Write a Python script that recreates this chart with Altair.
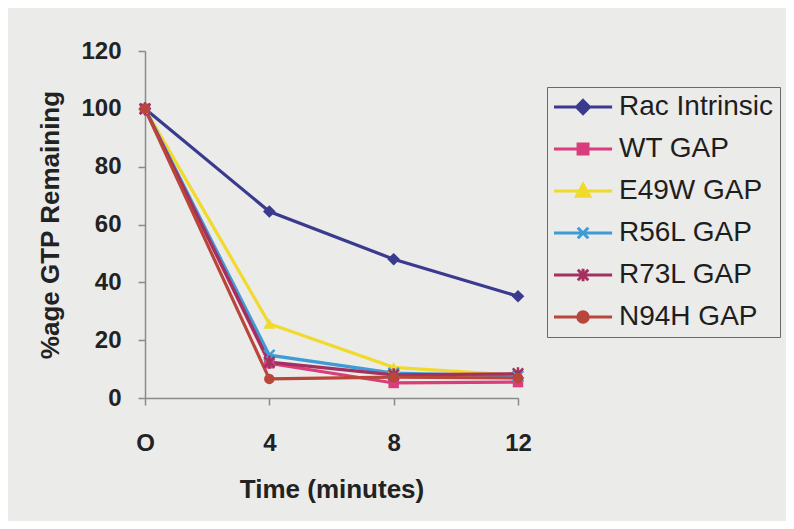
import altair as alt
import pandas as pd

# ---- data ----
times = [0, 4, 8, 12]
series_names = ["Rac Intrinsic", "WT GAP", "E49W GAP", "R56L GAP", "R73L GAP", "N94H GAP"]
rac_intrinsic = [100, 64.5, 48.0, 35.2]
wt_gap = [100, 12.0, 5.2, 5.5]
e49w_gap = [100, 25.7, 10.6, 7.8]
r56l_gap = [100, 14.8, 8.6, 7.6]
r73l_gap = [100, 12.4, 8.0, 8.4]
n94h_gap = [100, 6.6, 7.2, 6.9]
all_values = [rac_intrinsic, wt_gap, e49w_gap, r56l_gap, r73l_gap, n94h_gap]

x_ticks = [0, 4, 8, 12]
y_ticks = [0, 20, 40, 60, 80, 100, 120]

colors = ["#3a3a8e", "#d93d7c", "#f0da2c", "#3f9bd6", "#a3305f", "#b9463a"]
bg = "#ebebea"

rows = []
for name, vals in zip(series_names, all_values):
    for t, v in zip(times, vals):
        rows.append({"series": name, "time": t, "value": v})
df = pd.DataFrame(rows)

# plot marker shapes (style)
plot_shapes = [
    ("diamond", True, 160, 1),
    ("square", True, 110, 1),
    ("triangle-up", True, 140, 1),
    ("M-1,-1L1,1M-1,1L1,-1", False, 110, 2.5),
    ("M-1,-1L1,1M-1,1L1,-1M0,-1.25V1.25", False, 110, 2.5),
    ("circle", True, 110, 1),
]

# legend symbols: line segment + marker
line_seg = "M-1,0H7.3"
legend_markers = [
    "M3.15,-0.93L4.08,0L3.15,0.93L2.22,0Z",
    "M2.44,-0.71H3.86V0.71H2.44Z",
    "M3.15,-0.95L4.1,0.75H2.2Z",
    "M2.4,-0.75L3.9,0.75M2.4,0.75L3.9,-0.75",
    "M2.4,-0.75L3.9,0.75M2.4,0.75L3.9,-0.75M3.15,-0.9V0.9",
    "M2.4,0A0.75,0.75 0 1 1 3.9,0A0.75,0.75 0 1 1 2.4,0Z",
]
legend_paths = [line_seg + m for m in legend_markers]

x_enc = alt.X(
    "time:Q",
    scale=alt.Scale(domain=[0, 12], nice=False, zero=False),
    axis=alt.Axis(
        values=x_ticks,
        labelExpr="datum.value == 0 ? 'O' : datum.label",
        grid=False,
        tickSize=7,
        labelPadding=26,
        labelFlush=False,
        labelOverlap=False,
        title="Time (minutes)",
        titleY=99,
        titleBaseline="alphabetic",
    ),
)
y_enc = alt.Y(
    "value:Q",
    scale=alt.Scale(domain=[0, 120], nice=False),
    axis=alt.Axis(
        values=y_ticks,
        grid=False,
        tickSize=7,
        labelPadding=17,
        labelFlush=False,
        labelOverlap=False,
        labelBaseline="middle",
        title="%age GTP Remaining",
        titleAngle=270,
        titleX=-87,
        titleY=173.5,
        titleAlign="center",
        titleBaseline="alphabetic",
    ),
)

base = alt.Chart(df).encode(x=x_enc, y=y_enc)

lines = []
markers = []
for name, col, (shape, filled, size, sw) in zip(series_names, colors, plot_shapes):
    sub = base.transform_filter(alt.datum.series == name)
    lines.append(sub.mark_line(strokeWidth=3.2, color=col).encode(order=alt.Order("time:Q")))
    markers.append(
        sub.mark_point(shape=shape, filled=filled, size=size, strokeWidth=sw, opacity=1, color=col)
    )

leg = alt.Legend(
    title=None,
    orient="none",
    legendX=402,
    legendY=36,
    padding=6,
    symbolSize=196,
    symbolStrokeWidth=3,
    symbolOffset=-6,
    labelOffset=44,
    rowPadding=14,
    labelFontSize=28,
    labelFont="Liberation Sans",
    labelColor="#1e1e1e",
    labelExpr="datum.label + '  '",
    strokeColor="#6a6a6a",
    fillColor=bg,
)

legend_layer = (
    alt.Chart(df)
    .transform_filter("datum.value < 0")
    .mark_point(filled=True, opacity=1, strokeWidth=3)
    .encode(
        x=x_enc,
        y=y_enc,
        color=alt.Color("series:N", scale=alt.Scale(domain=series_names, range=colors), legend=leg),
        stroke=alt.Stroke("series:N", scale=alt.Scale(domain=series_names, range=colors), legend=leg),
        shape=alt.Shape("series:N", scale=alt.Scale(domain=series_names, range=legend_paths), legend=leg),
    )
)

chart = (
    alt.layer(*lines, *markers, legend_layer)
    .properties(
        width=373,
        height=347,
        autosize=alt.AutoSizeParams(type="none"),
        padding={"left": 137, "top": 43, "right": 268, "bottom": 123},
        background=bg,
    )
    .configure_view(stroke=None)
    .configure_axis(
        domainColor="#8a8a8a",
        tickColor="#8a8a8a",
        domainWidth=1.5,
        tickWidth=1.5,
        labelFont="Liberation Sans",
        labelFontSize=24,
        labelFontWeight="bold",
        labelColor="#222222",
        titleFont="Liberation Sans",
        titleFontSize=26,
        titleFontWeight="bold",
        titleColor="#222222",
    )
)

chart.save("out.html", embed_options={"renderer": "svg", "actions": False})
